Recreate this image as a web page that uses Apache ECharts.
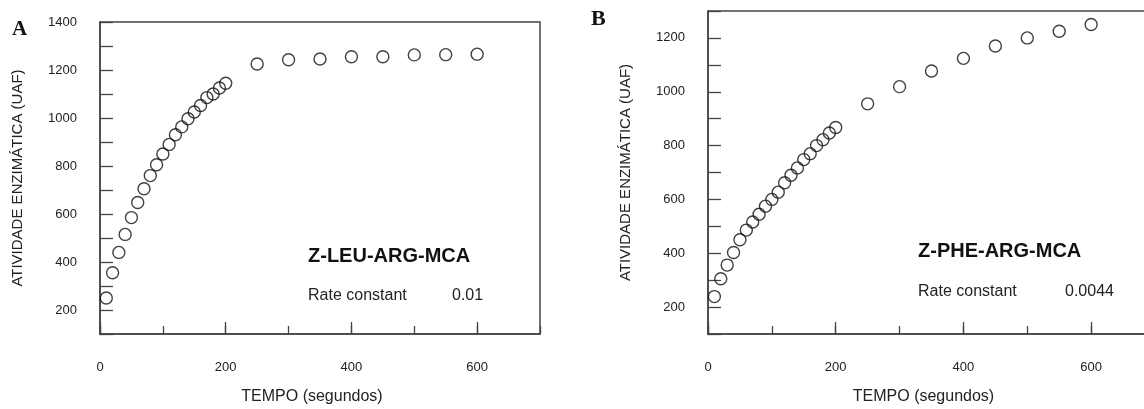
<!DOCTYPE html>
<html>
<head>
<meta charset="utf-8">
<script src="https://cdn.jsdelivr.net/npm/echarts@6/dist/echarts.min.js"></script>
<style>
html,body{margin:0;padding:0;background:#fff;}
#chart{width:1144px;height:409px;}
</style>
</head>
<body>
<div id="chart"></div>
<script>
// ---- data ----
const timeA = [10,20,30,40,50,60,70,80,90,100,110,120,130,140,150,160,170,180,190,200,250,300,350,400,450,500,550,600];
const activityA = [250,355,440,515,585,648,705,760,805,850,890,930,963,997,1025,1052,1085,1100,1125,1145,1225,1243,1246,1255,1255,1263,1264,1266];
const timeB = [10,20,30,40,50,60,70,80,90,100,110,120,130,140,150,160,170,180,190,200,250,300,350,400,450,500,550,600];
const activityB = [239,305,356,403,450,486,516,545,575,600,627,662,690,717,748,770,800,822,847,867,955,1019,1077,1124,1170,1200,1225,1250];
const substrateA = 'Z-LEU-ARG-MCA';
const substrateB = 'Z-PHE-ARG-MCA';
const rateA = '0.01';
const rateB = '0.0044';
const xTitle = 'TEMPO (segundos)';
const yTitle = 'ATIVIDADE ENZIMÁTICA (UAF)';

const FONT = '"Liberation Sans", Arial, sans-serif';
const AX = '#444';

function pairs(xs, ys){ return xs.map((x,i)=>[x, ys[i]]); }

function xAxes(gi){
  return [
    { // major ticks + labels
      type:'value', gridIndex:gi, min:0, max:700, interval:200, position:'bottom',
      axisLine:{show:true, lineStyle:{color:AX, width:1.5}},
      axisTick:{show:true, inside:true, length:12, lineStyle:{color:AX, width:1.3}},
      axisLabel:{show:true, margin:27, color:'#222', fontSize:13, fontFamily:FONT, showMaxLabel:false},
      splitLine:{show:false},
      name:xTitle, nameLocation:'middle', nameGap:55,
      nameTextStyle:{color:'#222', fontSize:16, fontFamily:FONT, padding:[0,16,0,0]}
    },
    { // minor ticks
      type:'value', gridIndex:gi, min:0, max:700, interval:100, position:'bottom',
      axisLine:{show:false},
      axisTick:{show:true, inside:true, length:8, lineStyle:{color:AX, width:1.3}},
      axisLabel:{show:false}, splitLine:{show:false}
    }
  ];
}
function yAxis(gi, max){
  return {
    type:'value', gridIndex:gi, min:100, max:max, interval:100,
    axisLine:{show:true, lineStyle:{color:AX, width:1.5}},
    axisTick:{show:true, inside:true, length:13, lineStyle:{color:AX, width:1.3}},
    axisLabel:{show:true, margin:23, color:'#222', fontSize:13, fontFamily:FONT,
      formatter:v => (v % 200 === 0 ? String(v) : '')},
    splitLine:{show:false},
    name:yTitle, nameLocation:'middle', nameGap:75,
    nameTextStyle:{color:'#222', fontSize:15, fontFamily:FONT}
  };
}
function scatter(xi, yi, data){
  return {
    type:'scatter', xAxisIndex:xi, yAxisIndex:yi, data:data,
    symbol:'circle', symbolSize:12,
    itemStyle:{color:'rgba(255,255,255,0)', borderColor:'#111', borderWidth:1.4},
    emphasis:{disabled:true}, z:5
  };
}

const chart = echarts.init(document.getElementById('chart'), null, {renderer:'canvas'});
chart.setOption({
  animation:false,
  backgroundColor:'#fff',
  grid:[
    {left:100, top:22, width:440, height:312, show:true, borderColor:AX, borderWidth:1.5, backgroundColor:'transparent', outerBoundsMode:'none', containLabel:false},
    {left:708, top:11, width:447, height:323, show:true, borderColor:AX, borderWidth:1.5, backgroundColor:'transparent', outerBoundsMode:'none', containLabel:false}
  ],
  xAxis:[...xAxes(0), ...xAxes(1)],
  yAxis:[yAxis(0,1400), yAxis(1,1300)],
  series:[
    scatter(0,0,pairs(timeA, activityA)),
    scatter(2,1,pairs(timeB, activityB))
  ],
  graphic:[
    {type:'text', left:12, top:19, style:{text:'A', font:'bold 21px "Liberation Serif", "Times New Roman", serif', fill:'#111'}},
    {type:'text', left:591, top:8, style:{text:'B', font:'bold 22px "Liberation Serif", "Times New Roman", serif', fill:'#111'}},
    {type:'text', x:308, y:256, style:{text:substrateA, font:'bold 20px "Liberation Sans", Arial, sans-serif', fill:'#111', textVerticalAlign:'middle'}},
    {type:'text', x:308, y:296, style:{text:'Rate constant', font:'16px "Liberation Sans", Arial, sans-serif', fill:'#222', textVerticalAlign:'middle'}},
    {type:'text', x:452, y:296, style:{text:rateA, font:'16px "Liberation Sans", Arial, sans-serif', fill:'#222', textVerticalAlign:'middle'}},
    {type:'text', x:918, y:251, style:{text:substrateB, font:'bold 20px "Liberation Sans", Arial, sans-serif', fill:'#111', textVerticalAlign:'middle'}},
    {type:'text', x:918, y:292, style:{text:'Rate constant', font:'16px "Liberation Sans", Arial, sans-serif', fill:'#222', textVerticalAlign:'middle'}},
    {type:'text', x:1065, y:292, style:{text:rateB, font:'16px "Liberation Sans", Arial, sans-serif', fill:'#222', textVerticalAlign:'middle'}}
  ]
});
</script>
</body>
</html>
